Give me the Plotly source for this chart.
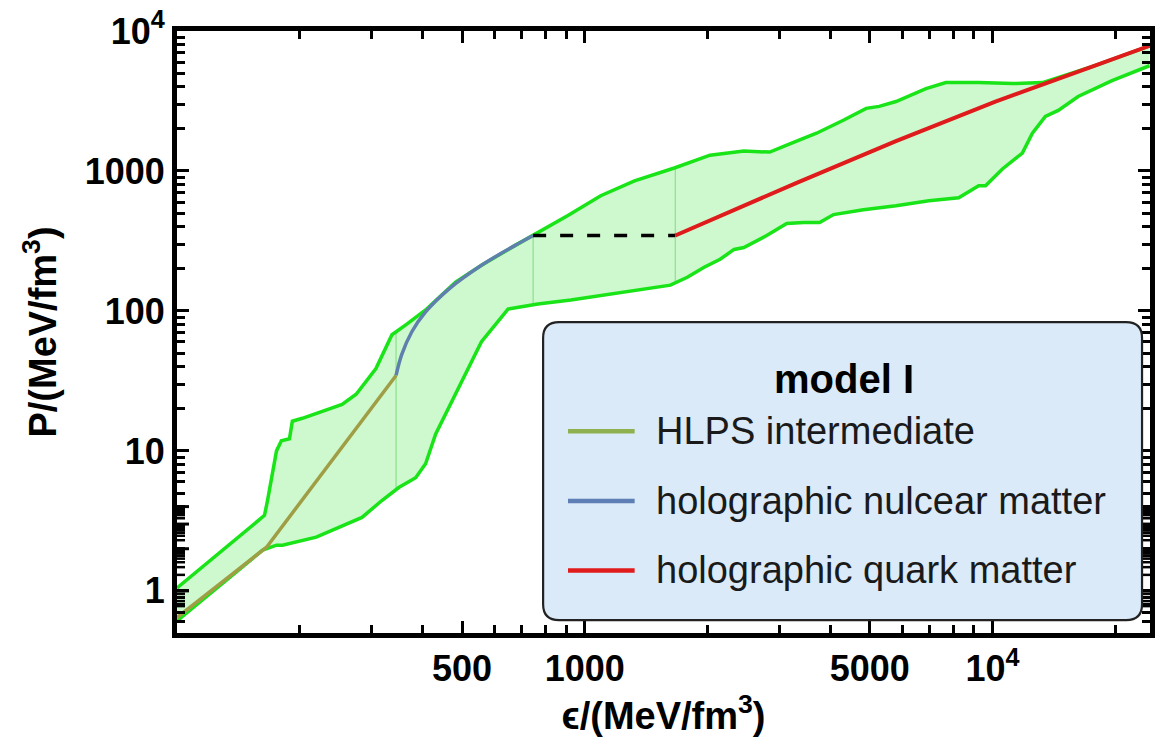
import numpy as np
import plotly.graph_objects as go

# ---------------- data ----------------
upper_eps = [100, 163.9, 166.7, 175.4, 180.3, 188.7, 191.8, 202.9, 254, 275, 307.5, 336.6,
             364, 407, 482, 558, 675, 747, 812, 909, 1094, 1324, 1658, 2028, 2455, 2843,
             3127, 3700, 4305, 4898, 5272, 5796, 6866, 7680, 9243, 11190, 13250, 17820, 24260]
upper_P = [1.05, 3.46, 4.42, 10.0, 11.8, 12.2, 16.3, 17.1, 21.5, 25.4, 38.8, 67.6,
           79.6, 101.6, 160.6, 212, 294, 346, 394, 480, 665, 849, 1050, 1297, 1386, 1364,
           1529, 1861, 2301, 2800, 2893, 3135, 3878, 4278, 4278, 4210, 4278, 5650, 7830]

lower_eps = [100, 162.2, 175.4, 181.4, 219.5, 284.2, 318, 349.8, 384.8, 407, 430.9, 482,
             558, 649, 767, 924, 1119, 1347, 1622, 1784, 1962, 2147, 2323, 2455, 2793,
             3127, 3442, 3765, 4074, 4821, 5796, 6977, 8258, 9243, 9610, 10570, 11830,
             12520, 13470, 14490, 16210, 19630, 24260]
lower_P = [0.61, 1.955, 2.12, 2.12, 2.42, 3.35, 4.42, 5.47, 6.44, 8.09, 13.2, 25.4,
           60.3, 103.3, 112.2, 119.8, 129.9, 140.8, 152.8, 174, 205, 234, 275, 284, 346,
           421, 428, 428, 488, 529, 564, 613, 644, 783, 783, 1033, 1343,
           1861, 2455, 2710, 3403, 4418, 5650]

hlps_eps = [100, 165.8, 344.5]
hlps_P = [0.645, 2.05, 34.6]

nuc_eps = [344.5, 355.6, 376.6, 407, 464, 558, 675, 747]
nuc_P = [34.6, 48.7, 71.0, 98.4, 143.3, 212, 294, 346]

trans_eps = [747, 1667]
trans_P = [346, 346]

quark_eps = [1667, 3308, 5794, 10160, 17820, 24260]
quark_P = [346, 822, 1633, 3133, 5650, 7830]

split_eps = [344.5, 747, 1667]

x_ticks = [500, 1000, 5000, 10000]
x_ticktext = ["<b>500</b>", "<b>1000</b>", "<b>5000</b>", "<b>10<sup>4</sup></b>"]
x_minor = [200, 300, 400, 600, 700, 800, 900, 2000, 3000, 4000, 6000, 7000, 8000, 9000, 20000]
y_ticks = [1, 10, 100, 1000, 10000]
y_ticktext = ["<b>1</b>", "<b>10</b>", "<b>100</b>", "<b>1000</b>", "<b>10<sup>4</sup></b>"]
y_minor = [0.6, 0.7, 0.8, 0.9] + [m * 10 ** k for k in range(0, 4) for m in range(2, 10)]

legend_title = "model I"
legend_labels = ["HLPS intermediate", "holographic nulcear matter", "holographic quark matter"]
legend_colors = ["#8fb04f", "#5d7fb5", "#e01b1b"]

# ---------------- styling ----------------
FONT = "Liberation Sans, Arial, Helvetica, sans-serif"
BAND_LINE = "rgb(24,228,24)"
BAND_FILL = "rgb(206,248,206)"

fig = go.Figure()

# band fill
fig.add_trace(go.Scatter(
    x=upper_eps + lower_eps[::-1], y=upper_P + lower_P[::-1],
    fill="toself", fillcolor=BAND_FILL, mode="lines", line=dict(width=0),
    hoverinfo="skip", showlegend=False))

# faint segment separators (piece boundaries of the band)
lu = np.log10(upper_eps); lpu = np.log10(upper_P)
ll = np.log10(lower_eps); lpl = np.log10(lower_P)
for e in split_eps:
    pu = 10 ** np.interp(np.log10(e), lu, lpu)
    pl = 10 ** np.interp(np.log10(e), ll, lpl)
    fig.add_trace(go.Scatter(x=[e, e], y=[pl, pu], mode="lines",
                             line=dict(color="rgba(60,200,60,0.45)", width=1.2),
                             hoverinfo="skip", showlegend=False))

# band edges
fig.add_trace(go.Scatter(x=upper_eps, y=upper_P, mode="lines",
                         line=dict(color=BAND_LINE, width=3.5), showlegend=False))
fig.add_trace(go.Scatter(x=lower_eps, y=lower_P, mode="lines",
                         line=dict(color=BAND_LINE, width=3.5), showlegend=False))

# model curves
fig.add_trace(go.Scatter(x=hlps_eps, y=hlps_P, mode="lines", name=legend_labels[0],
                         line=dict(color="#a09e45", width=3.5), showlegend=False))
fig.add_trace(go.Scatter(x=nuc_eps, y=nuc_P, mode="lines", name=legend_labels[1],
                         line=dict(color="#5f80ad", width=3.5, shape="spline"), showlegend=False))
fig.add_trace(go.Scatter(x=trans_eps, y=trans_P, mode="lines",
                         line=dict(color="black", width=3.5, dash="13px,14px"), showlegend=False))
fig.add_trace(go.Scatter(x=quark_eps, y=quark_P, mode="lines", name=legend_labels[2],
                         line=dict(color="#e01b1b", width=4), showlegend=False))

# ---------------- layout ----------------
W, H = 1160, 750
L, R, T, B = 177, 1155, 27, 633
MAJ, MIN = 12, 8


def px(xp):
    return (xp - L) / (R - L)


def py(yp):
    return (B - yp) / (B - T)


axis_common = dict(
    type="log", showline=True, linecolor="black", linewidth=5, mirror="allticks",
    ticks="inside", ticklen=MAJ, tickwidth=3, tickcolor="black",
    tickmode="array",
    tickfont=dict(family=FONT, size=36, color="black"),
)

fig.update_layout(
    width=W, height=H,
    margin=dict(l=L, r=W - R, t=T, b=H - B),
    paper_bgcolor="white", plot_bgcolor="white",
    showlegend=False,
    xaxis=dict(**axis_common, range=[2.0, 4.386], tickvals=x_ticks, ticktext=x_ticktext,
               minor=dict(tickmode="array", tickvals=x_minor, ticks="inside", ticklen=MIN,
                          tickwidth=2.5, tickcolor="black"),
               title=dict(text="<b>ϵ/(MeV/fm<sup>3</sup>)</b>", standoff=14,
                          font=dict(family=FONT, size=38, color="black"))),
    yaxis=dict(**axis_common, range=[np.log10(0.5), 4.0], tickvals=y_ticks, ticktext=y_ticktext,
               minor=dict(tickmode="array", tickvals=y_minor, ticks="inside", ticklen=MIN,
                          tickwidth=2.5, tickcolor="black"),
               title=dict(text="<b>P/(MeV/fm<sup>3</sup>)</b>", standoff=18,
                          font=dict(family=FONT, size=38, color="black"))),
)

# ---------------- frame ticks (inside, on all four sides) ----------------
def add_xtick(v, length, width):
    lx = float(np.log10(v))
    for anchor, sign in ((0, 1), (1, -1)):
        fig.add_shape(type="line", xref="x", yref="paper", ysizemode="pixel", yanchor=anchor,
                      x0=lx, x1=lx, y0=0, y1=sign * length,
                      line=dict(color="black", width=width), layer="above")


def add_ytick(v, length, width):
    ly = float(np.log10(v))
    for anchor, sign in ((0, 1), (1, -1)):
        fig.add_shape(type="line", yref="y", xref="paper", xsizemode="pixel", xanchor=anchor,
                      y0=ly, y1=ly, x0=0, x1=sign * length,
                      line=dict(color="black", width=width), layer="above")


for v in x_ticks:
    add_xtick(v, MAJ, 3)
for v in x_minor:
    add_xtick(v, MIN, 2.5)
for v in y_ticks:
    add_ytick(v, MAJ, 3)
for v in y_minor:
    add_ytick(v, MIN, 2.5)

# ---------------- legend box (rounded) ----------------
bx0, bx1, by0, by1, r = 545, 1147, 320, 620, 16
rx = r / (R - L)
ry = r / (B - T)
X0, X1, Y0, Y1 = px(bx0), px(bx1), py(by1), py(by0)
path = (f"M {X0 + rx},{Y0} L {X1 - rx},{Y0} Q {X1},{Y0} {X1},{Y0 + ry} "
        f"L {X1},{Y1 - ry} Q {X1},{Y1} {X1 - rx},{Y1} "
        f"L {X0 + rx},{Y1} Q {X0},{Y1} {X0},{Y1 - ry} "
        f"L {X0},{Y0 + ry} Q {X0},{Y0} {X0 + rx},{Y0} Z")
fig.add_shape(type="path", path=path, xref="paper", yref="paper",
              fillcolor="#daeaf9", line=dict(color="#222222", width=2.2), layer="above")

fig.add_annotation(x=px(847), y=py(377), xref="paper", yref="paper", text="<b>" + legend_title + "</b>",
                   showarrow=False, xanchor="center", yanchor="middle",
                   font=dict(family=FONT, size=40, color="black"))
for i, (lab, col) in enumerate(zip(legend_labels, legend_colors)):
    yy = 430 + 70 * i
    fig.add_shape(type="line", xref="paper", yref="paper", x0=px(570), x1=px(637),
                  y0=py(yy), y1=py(yy), line=dict(color=col, width=4.5), layer="above")
    fig.add_annotation(x=px(656), y=py(yy), xref="paper", yref="paper", text=lab,
                       showarrow=False, xanchor="left", yanchor="middle",
                       font=dict(family=FONT, size=38, color="#1a1a1a"))

fig.write_html("out.html")
